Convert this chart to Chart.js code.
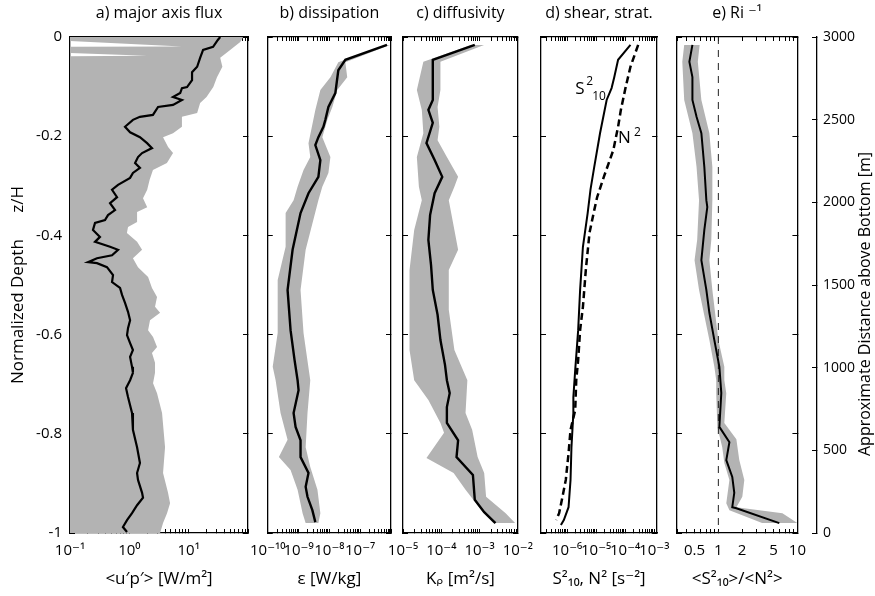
<!DOCTYPE html>
<html>
<head>
<meta charset="utf-8">
<script src="https://cdn.jsdelivr.net/npm/chart.js@4.4.0/dist/chart.umd.min.js"></script>
<style>
  html, body { margin: 0; padding: 0; background: #fff; }
  #wrap { position: relative; width: 875px; height: 596px; overflow: hidden; }
  canvas { position: absolute; top: 0; }
</style>
</head>
<body>
<div id="wrap">
  <canvas id="pa"></canvas>
  <canvas id="pb"></canvas>
  <canvas id="pc"></canvas>
  <canvas id="pd"></canvas>
  <canvas id="pe"></canvas>
  <canvas id="pz"></canvas>
</div>
<script>
// ---- shared axis ticks ----
const depthTicks = [0, -0.2, -0.4, -0.6, -0.8, -1];
const heightTicks = [0, 500, 1000, 1500, 2000, 2500, 3000];
const fluxTicks = [0.1, 1, 10];
const epsTicks = [1e-10, 1e-9, 1e-8, 1e-7];
const kTicks = [1e-5, 1e-4, 1e-3, 1e-2];
const shearTicks = [1e-6, 1e-5, 1e-4, 1e-3];
const ratioTicks = [0.5, 1, 2, 5, 10];

// ---- a) major axis flux <u'p'> ----
const fluxDepth = [0, -0.006, -0.02, -0.026, -0.042, -0.06, -0.071, -0.087, -0.101, -0.103,
  -0.113, -0.121, -0.127, -0.137, -0.141, -0.157, -0.161, -0.167, -0.181, -0.192,
  -0.202, -0.214, -0.224, -0.234, -0.242, -0.254, -0.264, -0.274, -0.284, -0.298,
  -0.308, -0.323, -0.335, -0.349, -0.359, -0.369, -0.375, -0.389, -0.403, -0.413,
  -0.423, -0.429, -0.44, -0.446, -0.454, -0.456, -0.464, -0.48, -0.494, -0.506,
  -0.52, -0.536, -0.554, -0.571, -0.587, -0.601, -0.617, -0.631, -0.645, -0.665,
  -0.677, -0.692, -0.708, -0.726, -0.758, -0.792, -0.827, -0.859, -0.879, -0.893,
  -0.919, -0.929, -0.944, -0.96, -0.974, -0.988, -0.998];
const fluxMean = [34, 31, 25.8, 17.5, 15.6, 13.9, 11.4, 11.4, 9.4, 7.7,
  7.2, 5.45, 7.7, 5.45, 3.05, 2.5, 1.51, 1.15, 0.846, 1.03,
  1.51, 1.99, 2.41, 1.64, 1.4, 1.25, 1.51, 1.15, 1.03, 0.645,
  0.511, 0.621, 0.473, 0.574, 0.437, 0.389, 0.264, 0.244, 0.32, 0.264,
  0.473, 0.645, 0.511, 0.285, 0.201, 0.285, 0.42, 0.531, 0.511, 0.697,
  0.753, 0.846, 0.95, 1.03, 0.95, 0.914, 1.03, 1.15, 1.03, 1.11,
  1.15, 1.03, 0.88, 0.95, 1.11, 1.15, 1.35, 1.51, 1.35, 1.4,
  1.64, 1.7, 1.35, 1.11, 0.914, 0.78, 0.914];
const fluxHiDepth = [0, -0.01, -0.026, -0.042, -0.06, -0.081, -0.101, -0.121, -0.133, -0.153,
  -0.161, -0.181, -0.194, -0.202, -0.222, -0.234, -0.254, -0.268, -0.288, -0.308,
  -0.325, -0.343, -0.353, -0.373, -0.383, -0.395, -0.413, -0.429, -0.446, -0.464,
  -0.484, -0.506, -0.524, -0.544, -0.556, -0.571, -0.591, -0.605, -0.625, -0.637,
  -0.657, -0.677, -0.698, -0.718, -0.758, -0.827, -0.879, -0.919, -0.94, -0.96,
  -0.98, -1];
const fluxHi = [83, 74, 50, 34, 37, 30, 26, 20, 15.6, 13.9,
  7.7, 7.7, 5.45, 3.7, 4.5, 5.45, 4.3, 2.5, 2.2, 2.0,
  1.7, 2.0, 1.35, 1.35, 0.95, 0.91, 1.35, 1.64, 1.15, 1.4,
  2.07, 2.41, 2.93, 2.71, 3.3, 2.23, 2.07, 2.51, 2.93, 2.41,
  2.71, 2.71, 2.51, 2.93, 3.56, 4.0, 3.7, 4.49, 4.86, 4.32,
  3.7, 3.3];
const fluxLoDepth = [0, -0.007, -0.019, -0.02, -0.031, -0.038, -0.039, -1];
const fluxLo = [0.01, 0.06, 7.7, 0.06, 0.06, 2.0, 0.06, 0.01];

// ---- b) dissipation epsilon ----
const epsDepth = [-0.016, -0.046, -0.067, -0.113, -0.141, -0.167, -0.181, -0.202, -0.218, -0.248,
  -0.282, -0.315, -0.355, -0.429, -0.51, -0.591, -0.651, -0.692, -0.712, -0.758,
  -0.786, -0.813, -0.847, -0.879, -0.907, -0.927, -0.954, -0.978];
const epsMean = [7.4e-7, 3.3e-8, 1.95e-8, 1.56e-8, 9.3e-9, 7.4e-9, 6.4e-9, 4.4e-9, 3.5e-9, 5.1e-9,
  4.4e-9, 2.1e-9, 1.16e-9, 6.4e-10, 4.4e-10, 5.5e-10, 7.4e-10, 9.3e-10, 1.0e-9, 6.9e-10,
  8.0e-10, 1.16e-9, 1.16e-9, 2.1e-9, 1.7e-9, 1.95e-9, 2.8e-9, 3.5e-9];
const epsLoDepth = [-0.016, -0.051, -0.081, -0.107, -0.147, -0.214, -0.242, -0.268, -0.302, -0.329,
  -0.355, -0.423, -0.49, -0.597, -0.665, -0.692, -0.758, -0.812, -0.847, -0.873,
  -0.913, -0.96, -0.98];
const epsLo = [6.4e-7, 1.95e-8, 1.08e-8, 5.1e-9, 3.5e-9, 2.1e-9, 2.4e-9, 1.45e-9, 9.3e-10, 6.9e-10,
  3.8e-10, 3.8e-10, 2.1e-10, 2.1e-10, 1.45e-10, 1.8e-10, 2.6e-10, 4.4e-10, 2.3e-10, 5.5e-10,
  9.3e-10, 1.35e-9, 1.7e-9];
const epsHiDepth = [-0.016, -0.051, -0.081, -0.107, -0.141, -0.167, -0.202, -0.242, -0.274, -0.302,
  -0.329, -0.429, -0.51, -0.597, -0.692, -0.758, -0.827, -0.867, -0.913, -0.96,
  -0.98];
const epsHi = [9.3e-7, 3.3e-8, 3.8e-8, 1.8e-8, 1.25e-8, 8.6e-9, 5.9e-9, 1.08e-8, 9.3e-9, 5.9e-9,
  4.4e-9, 1.7e-9, 1.16e-9, 1.45e-9, 2.4e-9, 1.95e-9, 1.7e-9, 2.4e-9, 4.1e-9, 5.1e-9,
  4.4e-9];

// ---- c) diffusivity K_rho ----
const kDepth = [-0.016, -0.046, -0.127, -0.147, -0.173, -0.214, -0.248, -0.282, -0.315, -0.359,
  -0.409, -0.46, -0.51, -0.56, -0.611, -0.661, -0.692, -0.718, -0.746, -0.778,
  -0.813, -0.847, -0.883, -0.933, -0.958, -0.98];
const kMean = [7.5e-4, 6.0e-5, 6.0e-5, 4.6e-5, 6.0e-5, 4.1e-5, 6.7e-5, 1.06e-4, 6.7e-5, 5.1e-5,
  4.6e-5, 5.4e-5, 6.0e-5, 8.0e-5, 9.5e-5, 1.25e-4, 1.4e-4, 1.66e-4, 1.4e-4, 1.4e-4,
  2.75e-4, 2.5e-4, 6.7e-4, 7.5e-4, 1.32e-3, 2.6e-3];
const kLoDepth = [-0.016, -0.05, -0.107, -0.147, -0.194, -0.242, -0.302, -0.329, -0.389, -0.47,
  -0.55, -0.631, -0.692, -0.732, -0.778, -0.798, -0.849, -0.879, -0.913, -0.954,
  -0.98];
const kLo = [6.0e-4, 3.4e-5, 2.3e-5, 3.1e-5, 3.4e-5, 2.3e-5, 2.6e-5, 3.1e-5, 1.96e-5, 1.48e-5,
  1.48e-5, 1.48e-5, 1.96e-5, 4.6e-5, 9.5e-5, 1.18e-4, 4.1e-5, 2.1e-4, 4.3e-4, 1.12e-3,
  2.3e-3];
const kHiDepth = [-0.016, -0.05, -0.107, -0.141, -0.181, -0.208, -0.242, -0.282, -0.302, -0.329,
  -0.389, -0.429, -0.47, -0.55, -0.631, -0.692, -0.758, -0.792, -0.847, -0.879,
  -0.927, -0.96, -0.98];
const kHi = [1.32e-3, 9.5e-5, 9.5e-5, 8.0e-5, 8.9e-5, 8.0e-5, 1.4e-4, 2.75e-4, 2.2e-4, 1.57e-4,
  2.2e-4, 2.75e-4, 1.57e-4, 1.57e-4, 2.2e-4, 4.8e-4, 4.3e-4, 6.4e-4, 8.9e-4, 1.32e-3,
  1.48e-3, 4.8e-3, 8.5e-3];

// ---- d) shear S^2_10 and stratification N^2 ----
const shearDepth = [-0.016, -0.046, -0.081, -0.103, -0.127, -0.194, -0.262, -0.307, -0.355, -0.423,
  -0.51, -0.591, -0.671, -0.726, -0.758, -0.827, -0.893, -0.948, -0.974, -0.984];
const shear = [1.52e-4, 5.7e-5, 4.2e-5, 3.4e-5, 2.3e-5, 1.36e-5, 8.6e-6, 6.4e-6, 5.1e-6, 3.5e-6,
  2.8e-6, 2.4e-6, 1.9e-6, 1.64e-6, 1.64e-6, 1.41e-6, 1.31e-6, 1.12e-6, 7.7e-7, 6.1e-7];
const stratDepth = [-0.016, -0.06, -0.101, -0.147, -0.181, -0.228, -0.282, -0.323, -0.349, -0.395,
  -0.47, -0.544, -0.591, -0.651, -0.692, -0.752, -0.792, -0.839, -0.893, -0.933,
  -0.96, -0.974];
const strat = [2.8e-4, 1.52e-4, 1.04e-4, 7.1e-5, 5.7e-5, 3.9e-5, 1.84e-5, 1.08e-5, 8.6e-6, 5.9e-6,
  4.4e-6, 3.5e-6, 2.8e-6, 2.4e-6, 2.06e-6, 1.9e-6, 1.31e-6, 1.12e-6, 9.0e-7, 6.6e-7,
  5.3e-7, 4.2e-7];
const shearLabelAt = { x: 1.9e-6, y: -0.105 };
const stratLabelAt = { x: 5.7e-5, y: -0.203 };

// ---- e) inverse Richardson number ----
const riDepth = [-0.016, -0.05, -0.081, -0.127, -0.161, -0.194, -0.262, -0.329, -0.343, -0.389,
  -0.45, -0.51, -0.556, -0.611, -0.665, -0.718, -0.786, -0.817, -0.853, -0.887,
  -0.919, -0.948, -0.95, -0.98];
const riMean = [0.47, 0.43, 0.47, 0.47, 0.53, 0.61, 0.665, 0.705, 0.725, 0.665,
  0.61, 0.705, 0.77, 0.89, 1.03, 1.09, 1.03, 1.38, 1.26, 1.5,
  1.59, 1.5, 1.69, 5.9];
const riLoDepth = [-0.016, -0.05, -0.127, -0.194, -0.262, -0.329, -0.409, -0.45, -0.51, -0.611,
  -0.665, -0.692, -0.718, -0.786, -0.827, -0.859, -0.893, -0.94, -0.954, -0.988];
const riLo = [0.37, 0.35, 0.37, 0.47, 0.53, 0.57, 0.54, 0.5, 0.57, 0.77,
  0.89, 0.94, 0.94, 0.97, 1.12, 1.19, 1.38, 1.26, 1.38, 4.83];
const riHiDepth = [-0.016, -0.05, -0.127, -0.194, -0.262, -0.329, -0.409, -0.45, -0.51, -0.611,
  -0.665, -0.692, -0.718, -0.778, -0.811, -0.853, -0.893, -0.927, -0.948, -0.96,
  -0.98];
const riHi = [0.58, 0.55, 0.61, 0.77, 0.84, 0.84, 0.815, 0.77, 0.84, 1.0,
  1.19, 1.19, 1.26, 1.19, 1.69, 1.84, 2.13, 2.01, 1.69, 6.46,
  10];
const unitRatio = [1, 1];
const unitRatioDepth = [0, -1];

// ---- drawing ----
const FONT = "'Open Sans', 'DejaVu Sans', sans-serif";
const GRAY = '#b3b3b3';
const TOP = 37, BOTTOM_H = 63, H = 596;
Chart.defaults.font.family = FONT;
Chart.defaults.color = '#000';
Chart.defaults.animation = false;

const SUP = { '-': '\u207B', '0': '\u2070', '1': '\u00B9', '2': '\u00B2', '3': '\u00B3',
  '4': '\u2074', '5': '\u2075', '6': '\u2076', '7': '\u2077', '8': '\u2078', '9': '\u2079' };
const sup = (n) => String(n).split('').map((c) => SUP[c]).join('');
const powLabel = (v) => '10' + sup(Math.round(Math.log10(v)));

function pts(depths, values) {
  return depths.map((z, i) => ({ x: values[i], y: z }));
}

function logTicks(min, max) {
  const out = [];
  for (let d = Math.floor(Math.log10(min)); d <= Math.ceil(Math.log10(max)); d++) {
    for (let k = 1; k <= 9; k++) {
      const v = Number(k + 'e' + d);
      if (v >= min * 0.999999 && v <= max * 1.000001) out.push(v);
    }
  }
  return out;
}

const grid = { drawOnChartArea: false, drawTicks: true, tickLength: -4, tickColor: '#000', tickWidth: 1 };
const border = { display: true, color: '#000', width: 1.3 };

function band(loD, lo, hiD, hi) {
  return [
    { data: pts(loD, lo), borderWidth: 0, pointRadius: 0, fill: false, xAxisID: 'x', yAxisID: 'y' },
    { data: pts(hiD, hi), borderWidth: 0, pointRadius: 0, fill: '-1', backgroundColor: GRAY, xAxisID: 'x', yAxisID: 'y' },
  ];
}

function profile(d, v, width, dash, color) {
  return { data: pts(d, v), borderColor: color || '#000', borderWidth: width, borderDash: dash || [],
    pointRadius: 0, fill: false, xAxisID: 'x', yAxisID: 'y' };
}

const textPlugin = {
  id: 'profileText',
  afterDraw(chart, args, opts) {
    const ctx = chart.ctx;
    (opts.items || []).forEach((it) => {
      const x = chart.scales.x.getPixelForValue(it.x);
      const y = chart.scales.y.getPixelForValue(it.y);
      ctx.save();
      ctx.fillStyle = '#000';
      ctx.textBaseline = 'middle';
      ctx.textAlign = 'left';
      it.parts.forEach((p) => {
        ctx.font = p.size + 'px ' + FONT;
        ctx.fillText(p.t, x + p.dx, y + p.dy);
      });
      ctx.restore();
    });
  },
};

function makePanel(p) {
  const cv = document.getElementById(p.id);
  const w = p.leftW + p.plotW + p.rightW;
  cv.width = w; cv.height = H;
  cv.style.left = (p.plotLeft - p.leftW) + 'px';
  cv.style.width = w + 'px'; cv.style.height = H + 'px';
  const isLabeled = (v) => p.labels.some((t) => Math.abs(Math.log10(v / t)) < 1e-6);
  const xTicks = (s) => { s.ticks = logTicks(p.min, p.max).map((v) => ({ value: v })); };
  const yTicks = (s) => { s.ticks = depthTicks.map((v) => ({ value: v })); };

  new Chart(cv, {
    type: 'line',
    data: { datasets: p.datasets },
    plugins: [textPlugin],
    options: {
      responsive: false,
      devicePixelRatio: 1,
      indexAxis: 'y',
      layout: { padding: 0 },
      plugins: {
        legend: { display: false },
        tooltip: { enabled: false },
        filler: { drawTime: 'beforeDatasetsDraw' },
        profileText: { items: p.text || [] },
      },
      scales: {
        x: {
          type: 'logarithmic', position: 'bottom', min: p.min, max: p.max, z: 1,
          afterBuildTicks: xTicks,
          afterFit: (s) => { s.height = BOTTOM_H; },
          grid, border,
          ticks: { autoSkip: false, maxRotation: 0, minRotation: 0, padding: 13, font: { size: 15 },
            callback: (v) => (isLabeled(v) ? p.fmt(v) : '') },
          title: { display: true, text: p.xTitle, font: { size: 17 }, padding: { top: 0, bottom: 7 } },
        },
        xTop: {
          type: 'logarithmic', position: 'top', min: p.min, max: p.max, z: 1,
          afterBuildTicks: xTicks,
          afterFit: (s) => { s.height = TOP; },
          grid, border,
          ticks: { display: false },
          title: { display: true, text: p.title, font: { size: 16 }, padding: { top: 4, bottom: 0 } },
        },
        y: {
          type: 'linear', position: 'left', min: -1, max: 0, z: 1,
          afterBuildTicks: yTicks,
          afterFit: (s) => { s.width = p.leftW; },
          grid: Object.assign({}, grid, { tickLength: -5 }), border,
          ticks: { display: !!p.depthLabels, padding: 13, font: { size: 15 },
            callback: (v) => (v === 0 ? '0' : String(Math.round(v * 10) / 10)) },
          title: { display: !!p.depthLabels, text: 'Normalized Depth      z/H', font: { size: 17 },
            padding: { top: 8, bottom: 0 } },
        },
        yRight: {
          type: 'linear', position: 'right', min: -1, max: 0, z: 1,
          afterBuildTicks: yTicks,
          afterFit: (s) => { s.width = p.rightW; },
          grid: Object.assign({}, grid, { tickLength: -5 }), border,
          ticks: { display: false },
        },
      },
    },
  });
}

makePanel({
  id: 'pa', plotLeft: 70, plotW: 178, leftW: 70, rightW: 20, min: 0.1, max: 100,
  labels: fluxTicks, fmt: powLabel, depthLabels: true,
  title: 'a) major axis flux', xTitle: '<u\u2032p\u2032> [W/m\u00B2]',
  datasets: [...band(fluxLoDepth, fluxLo, fluxHiDepth, fluxHi), profile(fluxDepth, fluxMean, 2.2)],
});

makePanel({
  id: 'pb', plotLeft: 267, plotW: 124, leftW: 30, rightW: 20, min: 1e-10, max: 1e-6,
  labels: epsTicks, fmt: powLabel,
  title: 'b) dissipation', xTitle: '\u03B5 [W/kg]',
  datasets: [...band(epsLoDepth, epsLo, epsHiDepth, epsHi), profile(epsDepth, epsMean, 2.4)],
});

makePanel({
  id: 'pc', plotLeft: 403, plotW: 123, leftW: 30, rightW: 20, min: 1e-5, max: 1e-2,
  labels: kTicks, fmt: powLabel,
  title: 'c) diffusivity', xTitle: 'K\u1D68 [m\u00B2/s]',
  datasets: [...band(kLoDepth, kLo, kHiDepth, kHi), profile(kDepth, kMean, 2.4)],
});

makePanel({
  id: 'pd', plotLeft: 541, plotW: 122, leftW: 30, rightW: 20, min: Math.pow(10, -6.9), max: Math.pow(10, -2.9),
  labels: shearTicks, fmt: powLabel,
  title: 'd) shear, strat.', xTitle: 'S\u00B2\u2081\u2080, N\u00B2 [s\u207B\u00B2]',
  datasets: [profile(shearDepth, shear, 2), profile(stratDepth, strat, 2.5, [7, 4])],
  text: [
    { x: shearLabelAt.x, y: shearLabelAt.y, parts: [
      { t: 'S', dx: 0, dy: 0, size: 17 }, { t: '2', dx: 11, dy: -8, size: 12 }, { t: '10', dx: 17, dy: 7, size: 12 }] },
    { x: stratLabelAt.x, y: stratLabelAt.y, parts: [
      { t: 'N', dx: 0, dy: 0, size: 17 }, { t: '2', dx: 16, dy: -5, size: 12 }] },
  ],
});

makePanel({
  id: 'pe', plotLeft: 677, plotW: 122, leftW: 30, rightW: 20, min: 0.3, max: 10,
  labels: ratioTicks, fmt: (v) => String(v),
  title: 'e) Ri \u207B\u00B9', xTitle: '<S\u00B2\u2081\u2080>/<N\u00B2>',
  datasets: [...band(riLoDepth, riLo, riHiDepth, riHi), profile(riDepth, riMean, 2),
    profile(unitRatioDepth, unitRatio, 1, [7, 6], '#222')],
});

// right-hand height axis
(function () {
  const cv = document.getElementById('pz');
  const left = 760, w = 875 - left;
  cv.width = w; cv.height = H;
  cv.style.left = left + 'px'; cv.style.width = w + 'px'; cv.style.height = H + 'px';
  const titlePlugin = {
    id: 'sideTitle',
    afterDraw(chart) {
      const ctx = chart.ctx;
      ctx.save();
      ctx.translate(w - 10, 304);
      ctx.rotate(-Math.PI / 2);
      ctx.font = '16px ' + FONT;
      ctx.fillStyle = '#000';
      ctx.textAlign = 'center';
      ctx.textBaseline = 'middle';
      ctx.fillText('Approximate Distance above Bottom [m]', 0, 0);
      ctx.restore();
    },
  };
  new Chart(cv, {
    type: 'line',
    data: { datasets: [] },
    plugins: [titlePlugin],
    options: {
      responsive: false,
      devicePixelRatio: 1,
      layout: { padding: { top: TOP, bottom: BOTTOM_H, left: 0, right: 0 } },
      plugins: { legend: { display: false }, tooltip: { enabled: false } },
      scales: {
        x: { type: 'linear', display: false },
        y: {
          type: 'linear', position: 'right', min: 0, max: 3000,
          afterBuildTicks: (s) => { s.ticks = heightTicks.map((v) => ({ value: v })); },
          afterFit: (s) => { s.width = 58; },
          grid: { drawOnChartArea: false, tickLength: -5, tickColor: '#000' },
          border: { display: true, color: '#000', width: 1.3 },
          ticks: { padding: 11, font: { size: 14 }, callback: (v) => String(v) },
        },
      },
    },
  });
})();
</script>
</body>
</html>
